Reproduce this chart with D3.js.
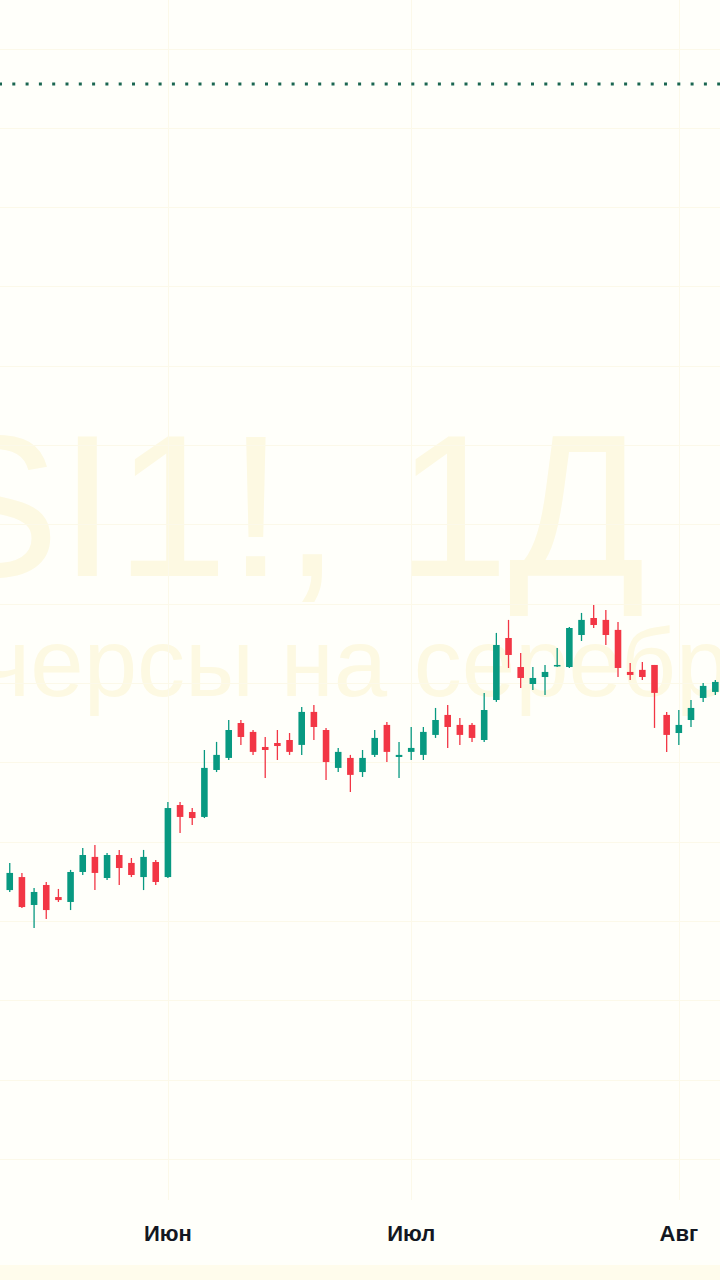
<!DOCTYPE html>
<html><head><meta charset="utf-8">
<script src="https://cdn.jsdelivr.net/npm/d3@7"></script>
<style>html,body{margin:0;padding:0;background:#fffffa;}svg{display:block;}</style>
</head><body>
<script>
// ---- data (price-scale labels are not visible, units are estimated) ----
const opens  = [28.195,28.277,28.101,28.227,28.151,28.120,28.309,28.404,28.271,28.416,28.366,28.277,28.372,28.277,28.731,28.687,28.656,28.952,29.028,29.248,29.192,29.097,29.122,29.141,29.110,29.318,29.204,28.965,29.028,28.939,29.047,29.236,29.034,29.066,29.047,29.173,29.299,29.236,29.236,29.141,29.393,29.784,29.601,29.494,29.538,29.608,29.601,29.803,29.910,29.898,29.835,29.570,29.583,29.614,29.299,29.185,29.267,29.406,29.444];
const highs  = [28.366,28.303,28.208,28.246,28.202,28.322,28.460,28.479,28.429,28.448,28.397,28.448,28.385,28.750,28.750,28.712,29.078,29.129,29.267,29.267,29.204,29.160,29.204,29.185,29.349,29.362,29.217,29.091,29.047,29.078,29.204,29.255,29.129,29.223,29.223,29.343,29.362,29.280,29.248,29.438,29.816,29.898,29.690,29.601,29.614,29.721,29.853,29.942,29.992,29.961,29.885,29.627,29.633,29.614,29.318,29.330,29.393,29.501,29.519];
const lows   = [28.183,28.082,27.956,28.013,28.120,28.069,28.290,28.195,28.259,28.227,28.277,28.195,28.227,28.271,28.555,28.605,28.649,28.939,29.015,29.110,29.047,28.902,29.015,29.047,29.047,29.141,28.889,28.939,28.813,28.908,29.034,29.002,28.902,29.015,29.015,29.154,29.091,29.110,29.129,29.129,29.381,29.595,29.469,29.456,29.425,29.601,29.595,29.765,29.847,29.740,29.538,29.519,29.519,29.217,29.066,29.110,29.223,29.381,29.425];
const closes = [28.303,28.088,28.183,28.069,28.132,28.309,28.416,28.303,28.416,28.334,28.290,28.404,28.246,28.712,28.656,28.649,28.965,29.047,29.204,29.160,29.066,29.078,29.103,29.066,29.318,29.223,29.002,29.066,28.921,29.028,29.154,29.066,29.047,29.091,29.192,29.267,29.223,29.173,29.154,29.330,29.740,29.677,29.532,29.532,29.570,29.614,29.847,29.898,29.866,29.803,29.595,29.551,29.538,29.438,29.173,29.236,29.343,29.482,29.507];
const monthLabels = ["Июн", "Июл", "Авг"];
const monthStartIndex = [13, 33, 55];
const gridValues = [26.5,27,27.5,28,28.5,29,29.5,30,30.5,31,31.5,32,32.5,33,33.5];
const lastPrice = 33.277;
const watermarkTitle = "SI1!, 1Д";
const watermarkSubtitle = "Фьючерсы на серебро";

// ---- layout ----
const W = 720, H = 1280;
const paneBottom = 1200;
const upColor = "#089981", downColor = "#f23645";

const svg = d3.select("body").append("svg").attr("width", W).attr("height", H);
svg.append("rect").attr("width", W).attr("height", H).attr("fill", "#fffffa");
svg.append("rect").attr("y", 1265).attr("width", W).attr("height", 15).attr("fill", "#fffcec");

const idx = d3.range(opens.length);
const x = d3.scaleBand().domain(idx).range([0.87, 0.87 + 12.26 * opens.length]).padding(0.46);
const cx = i => x(i) + x.bandwidth() / 2;
const y = d3.scaleLinear().domain([28, 33.5]).range([921, 48.5]);

// watermark
const wm = svg.append("g").attr("fill", "#fdf9e2").attr("font-family", "'Liberation Sans', Arial, sans-serif").attr("text-anchor", "middle");
wm.append("text").attr("x", 285).attr("y", 576).attr("font-size", 202).text(watermarkTitle);
wm.append("text").attr("x", 285).attr("y", 696).attr("font-size", 96).text(watermarkSubtitle);

// grid
const grid = svg.append("g").attr("stroke", "#fcf9e9").attr("stroke-width", 1);
grid.selectAll("line.h").data(gridValues).join("line").attr("class", "h")
  .attr("x1", 0).attr("x2", W).attr("y1", d => Math.round(y(d)) + 0.5).attr("y2", d => Math.round(y(d)) + 0.5);
grid.selectAll("line.v").data(monthStartIndex).join("line").attr("class", "v")
  .attr("x1", d => Math.round(cx(d)) + 0.5).attr("x2", d => Math.round(cx(d)) + 0.5).attr("y1", 0).attr("y2", paneBottom);

// last price line
svg.append("line").attr("x1", -1).attr("x2", W).attr("y1", y(lastPrice)).attr("y2", y(lastPrice))
  .attr("stroke", "#1a6651").attr("stroke-width", 3).attr("stroke-dasharray", "3 10.3");

// candles
const c = svg.append("g").selectAll("g").data(idx).join("g")
  .attr("fill", i => closes[i] >= opens[i] ? upColor : downColor)
  .attr("stroke", i => closes[i] >= opens[i] ? upColor : downColor);
c.append("line").attr("x1", cx).attr("x2", cx).attr("y1", i => y(highs[i])).attr("y2", i => y(lows[i])).attr("stroke-width", 1.3);
c.append("rect").attr("x", i => x(i)).attr("width", x.bandwidth())
  .attr("y", i => y(Math.max(opens[i], closes[i])))
  .attr("height", i => Math.max(1.5, Math.abs(y(opens[i]) - y(closes[i])))).attr("stroke", "none");

// time axis labels
svg.append("g").selectAll("text").data(monthStartIndex).join("text")
  .attr("x", d => cx(d)).attr("y", 1241).attr("text-anchor", "middle")
  .attr("font-family", "'Liberation Sans', Arial, sans-serif").attr("font-size", 22).attr("font-weight", "bold").attr("fill", "#131722")
  .text((d, k) => monthLabels[k]);
</script>
</body></html>
